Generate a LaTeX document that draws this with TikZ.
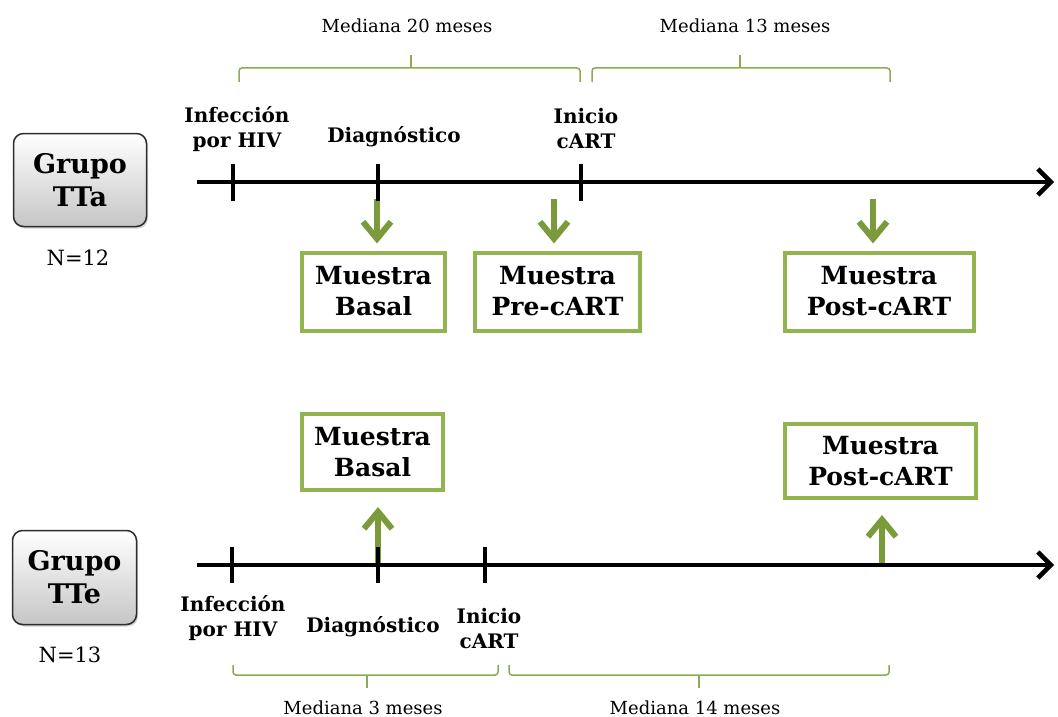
\documentclass[tikz,border=0pt]{standalone}
\usepackage{fontspec}
\setmainfont{DejaVu Serif}
\usetikzlibrary{arrows.meta,shadows}
\definecolor{olivebox}{RGB}{146,180,80}
\definecolor{olivearr}{RGB}{122,154,60}
\definecolor{olivebrace}{RGB}{140,170,85}
\tikzset{
  muestra/.style={draw=olivebox,line width=4pt,align=center,minimum height=78pt,inner sep=2pt,
    font=\bfseries\fontsize{25}{31}\selectfont},
  grupo/.style={draw=gray!35!black,line width=1.5pt,rounded corners=10pt,top color=white,
    bottom color=gray!45,drop shadow={shadow xshift=1.5pt,shadow yshift=-2pt,opacity=.35},
    align=center,font=\bfseries\fontsize{27}{33}\selectfont},
  hito/.style={align=center,font=\bfseries\fontsize{20}{25}\selectfont},
  mediana/.style={font=\fontsize{18}{22}\selectfont},
  nlabel/.style={font=\fontsize{21}{25}\selectfont},
  flecha/.style={olivearr,line width=6.5pt,-{Straight Barb[length=17pt,width=28pt,line width=6pt]}},
  eje/.style={line width=4pt,-{Straight Barb[length=13pt,width=26pt,line width=4.5pt]}},
  marca/.style={line width=3.5pt},
  llave/.style={olivebrace,line width=1.5pt,rounded corners=3pt}
}
\begin{document}
\begin{tikzpicture}[x=1pt,y=-1pt]
\useasboundingbox (0,0) rectangle (1058,717);
% grupo TTa
\node[grupo,minimum width=133pt,minimum height=93pt] (gA) at (80,180) {Grupo\\TTa};
\node[nlabel] (nA) at (78,258) {N=12};
\node[muestra,minimum width=143pt] (basA) at (373.5,291.5) {Muestra\\Basal};
\node[muestra,minimum width=165pt] (preA) at (557.5,291.5) {Muestra\\Pre-cART};
\node[muestra,minimum width=189pt] (postA) at (879,291.5) {Muestra\\Post-cART};
\coordinate (dA) at (377,199);
\coordinate (pA) at (554,199);
\coordinate (qA) at (873,199);
\draw[flecha,shorten >=7pt] (dA) -- (dA |- basA.north);
\draw[flecha,shorten >=7pt] (pA) -- (pA |- preA.north);
\draw[flecha,shorten >=7pt] (qA) -- (qA |- postA.north);
\coordinate (a0) at (197,182);
\coordinate (a1) at (1054,182);
\draw[eje] (a0) -- (a1);
\foreach \x in {233,378,581} \draw[marca] (\x,164) -- (\x,201);
\node[hito] (infA) at (237,129) {Infección\\por HIV};
\node[hito] (diagA) at (394,137) {Diagnóstico};
\node[hito] (iniA) at (586,129) {Inicio\\cART};
\draw[llave] (239,82) -- (239,68) -- (580,68) -- (580,82);
\draw[llave] (411,68) -- (411,55);
\node[mediana] (medA1) at (407,26) {Mediana 20 meses};
\draw[llave] (592,82) -- (592,68) -- (890,68) -- (890,82);
\draw[llave] (740,68) -- (740,55);
\node[mediana] (medA2) at (745,26) {Mediana 13 meses};
% grupo TTe
\node[grupo,minimum width=124pt,minimum height=94pt] (gB) at (74.5,577.5) {Grupo\\TTe};
\node[nlabel] (nB) at (70,655) {N=13};
\node[muestra,minimum width=141pt,minimum height=76pt] (basB) at (372.5,452) {Muestra\\Basal};
\node[muestra,minimum width=191pt,minimum height=74pt] (postB) at (880.5,461) {Muestra\\Post-cART};
\coordinate (dB) at (378,563);
\coordinate (qB) at (882,563);
\draw[flecha,shorten >=15pt] (dB) -- (dB |- basB.south);
\draw[flecha,shorten >=15pt] (qB) -- (qB |- postB.south);
\coordinate (b0) at (197,565);
\coordinate (b1) at (1054,565);
\draw[eje] (b0) -- (b1);
\foreach \x in {232,378,485} \draw[marca] (\x,547) -- (\x,583);
\node[hito] (infB) at (233,618) {Infección\\por HIV};
\node[hito] (diagB) at (373,627) {Diagnóstico};
\node[hito] (iniB) at (489,629) {Inicio\\cART};
\draw[llave] (233,665) -- (233,675) -- (498,675) -- (498,665);
\draw[llave] (367,675) -- (367,688);
\node[mediana] (medB1) at (363,708) {Mediana 3 meses};
\draw[llave] (509,665) -- (509,675) -- (889,675) -- (889,665);
\draw[llave] (699,675) -- (699,688);
\node[mediana] (medB2) at (695,708) {Mediana 14 meses};
\end{tikzpicture}
\end{document}
